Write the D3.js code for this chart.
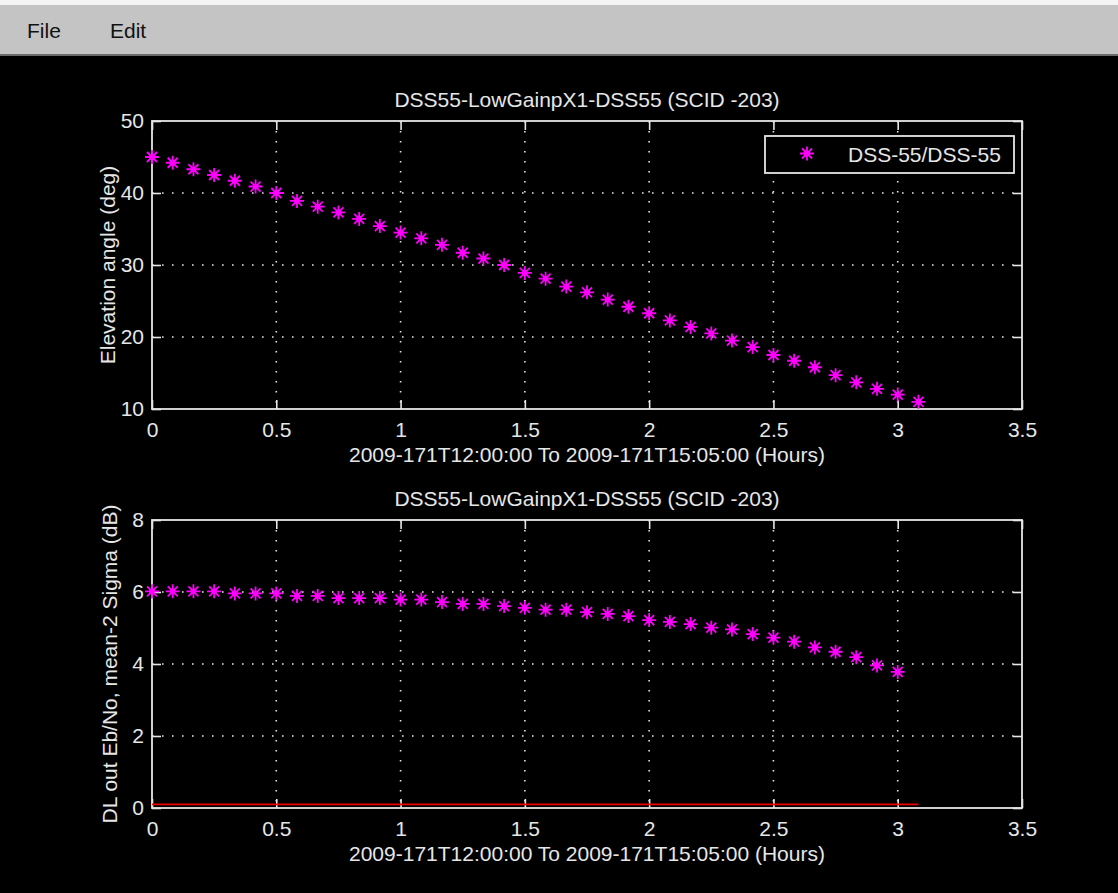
<!DOCTYPE html>
<html>
<head>
<meta charset="utf-8">
<script src="https://cdn.jsdelivr.net/npm/d3@7"></script>
<style>
  html, body { margin: 0; padding: 0; background: #000; }
  svg { display: block; }
  .lbl { font-family: "Liberation Sans", Arial, sans-serif; font-size: 21px; fill: #e6e6e6; }
</style>
</head>
<body>
<svg id="fig" width="1118" height="893"></svg>
<script>
// sample times, minutes after 2009-171T12:00:00
const minutes = [0, 5, 10, 15, 20, 25, 30, 35, 40, 45, 50, 55, 60, 65, 70, 75, 80, 85, 90, 95,
                 100, 105, 110, 115, 120, 125, 130, 135, 140, 145, 150, 155, 160, 165, 170, 175, 180, 185];

// elevation angle (deg) for DSS-55
const elevation = [45.0, 44.2, 43.3, 42.5, 41.7, 40.9, 40.0, 38.9, 38.1, 37.3, 36.4, 35.4, 34.5,
                   33.7, 32.8, 31.7, 30.9, 30.0, 28.9, 28.1, 27.0, 26.2, 25.2, 24.2, 23.3, 22.3,
                   21.4, 20.5, 19.5, 18.6, 17.5, 16.7, 15.8, 14.7, 13.7, 12.8, 12.0, 11.0];

// DL out Eb/No, mean-2 sigma (dB) - last sample at 180 min
const ebno = [6.02, 6.02, 6.02, 6.02, 5.96, 5.96, 5.96, 5.89, 5.89, 5.83, 5.83, 5.83, 5.79,
              5.79, 5.72, 5.67, 5.67, 5.61, 5.56, 5.51, 5.51, 5.44, 5.39, 5.33, 5.22, 5.17,
              5.11, 5.01, 4.96, 4.83, 4.73, 4.62, 4.46, 4.34, 4.19, 3.96, 3.78];

// threshold line (red)
const thresholdMinutes = [0, 185];
const thresholdValues = [0.1, 0.1];

const xTicks = [0, 0.5, 1, 1.5, 2, 2.5, 3, 3.5];
const elevTicks = [10, 20, 30, 40, 50];
const ebnoTicks = [0, 2, 4, 6, 8];

const plotTitle = "DSS55-LowGainpX1-DSS55 (SCID -203)";
const xTitle = "2009-171T12:00:00 To 2009-171T15:05:00 (Hours)";
const legendName = "DSS-55/DSS-55";

const svg = d3.select("#fig");
const W = 1118;
const fg = "#e6e6e6";
const magenta = "#ff00ff";

// menu bar
svg.append("rect").attr("x", 0).attr("y", 0).attr("width", W).attr("height", 5).attr("fill", "#f4f4f4");
svg.append("rect").attr("x", 0).attr("y", 5).attr("width", W).attr("height", 50).attr("fill", "#c4c4c4");
svg.append("rect").attr("x", 0).attr("y", 54).attr("width", W).attr("height", 2).attr("fill", "#6a6a6a");
svg.append("text").attr("class", "lbl").attr("x", 27).attr("y", 38).style("fill", "#111").text("File");
svg.append("text").attr("class", "lbl").attr("x", 110).attr("y", 38).style("fill", "#111").text("Edit");

const xScale = d3.scaleLinear().domain([0, 3.5]).range([152, 1022]);

// asterisk marker like MATLAB '*'
const star = "M-7,0H7M0,-7V7M-5,-5L5,5M-5,5L5,-5";

function drawMarker(g, x, y) {
    const m = g.append("g").attr("transform", `translate(${x},${y})`);
    m.append("path").attr("d", star).attr("stroke", magenta).attr("stroke-width", 1.8).attr("fill", "none");
    m.append("circle").attr("r", 2.8).attr("fill", magenta);
}

function panel({top, bottom, domain, ticks, ylabel, ylabelX}) {
    const yScale = d3.scaleLinear().domain(domain).range([bottom, top]);
    const g = svg.append("g");

    // dotted grid
    const grid = g.append("g").attr("stroke", fg).attr("stroke-width", 1.6).attr("stroke-dasharray", "1.6 8.4");
    grid.selectAll(".vg").data(xTicks.slice(1, -1)).enter().append("line")
        .attr("x1", d => xScale(d)).attr("x2", d => xScale(d))
        .attr("y1", top).attr("y2", bottom);
    grid.selectAll(".hg").data(ticks.slice(1, -1)).enter().append("line")
        .attr("x1", 152).attr("x2", 1022)
        .attr("y1", d => yScale(d)).attr("y2", d => yScale(d));

    // axes, ticks pointing inward on all four sides
    const fmt = d3.format("~g");
    const axes = [
        g.append("g").attr("transform", `translate(0,${bottom})`)
            .call(d3.axisBottom(xScale).tickValues(xTicks).tickFormat(fmt).tickSizeInner(-9).tickSizeOuter(0).tickPadding(13)),
        g.append("g").attr("transform", `translate(0,${top})`)
            .call(d3.axisTop(xScale).tickValues(xTicks).tickFormat("").tickSizeInner(-9).tickSizeOuter(0)),
        g.append("g").attr("transform", `translate(152,0)`)
            .call(d3.axisLeft(yScale).tickValues(ticks).tickFormat(fmt).tickSizeInner(-9).tickSizeOuter(0).tickPadding(8)),
        g.append("g").attr("transform", `translate(1022,0)`)
            .call(d3.axisRight(yScale).tickValues(ticks).tickFormat("").tickSizeInner(-9).tickSizeOuter(0))
    ];
    axes.forEach(a => {
        a.attr("font-size", null).attr("font-family", null);
        a.select(".domain").remove();
        a.selectAll("line").attr("stroke", fg).attr("stroke-width", 1.6);
        a.selectAll("text").attr("class", "lbl").attr("fill", null);
    });

    g.append("rect").attr("x", 152).attr("y", top).attr("width", 870).attr("height", bottom - top)
        .attr("fill", "none").attr("stroke", fg).attr("stroke-width", 1.8);

    g.append("text").attr("class", "lbl").attr("text-anchor", "middle")
        .attr("x", 587).attr("y", top - 14).text(plotTitle);
    g.append("text").attr("class", "lbl").attr("text-anchor", "middle")
        .attr("x", 587).attr("y", bottom + 53).text(xTitle);
    g.append("text").attr("class", "lbl").attr("text-anchor", "middle")
        .attr("transform", `translate(${ylabelX},${(top + bottom) / 2})rotate(-90)`).text(ylabel);

    return {g, yScale};
}

// top panel: elevation
const p1 = panel({top: 121, bottom: 409, domain: [10, 50], ticks: elevTicks,
                  ylabel: "Elevation angle (deg)", ylabelX: 115});
elevation.forEach((v, i) => drawMarker(p1.g, xScale(minutes[i] / 60), p1.yScale(v)));

// legend
const leg = p1.g.append("g");
leg.append("rect").attr("x", 765).attr("y", 136).attr("width", 249).attr("height", 37)
    .attr("fill", "#000").attr("stroke", fg).attr("stroke-width", 1.8);
drawMarker(leg, 807, 153.5);
leg.append("text").attr("class", "lbl").attr("x", 848).attr("y", 162).text(legendName);

// bottom panel: Eb/No
const p2 = panel({top: 520, bottom: 808, domain: [0, 8], ticks: ebnoTicks,
                  ylabel: "DL out Eb/No, mean-2 Sigma (dB)", ylabelX: 117});
p2.g.append("path")
    .datum(thresholdMinutes.map((m, i) => [m / 60, thresholdValues[i]]))
    .attr("d", d3.line().x(d => xScale(d[0])).y(d => p2.yScale(d[1])))
    .attr("stroke", "#ee0000").attr("stroke-width", 1.8).attr("fill", "none");
ebno.forEach((v, i) => drawMarker(p2.g, xScale(minutes[i] / 60), p2.yScale(v)));
</script>
</body>
</html>
